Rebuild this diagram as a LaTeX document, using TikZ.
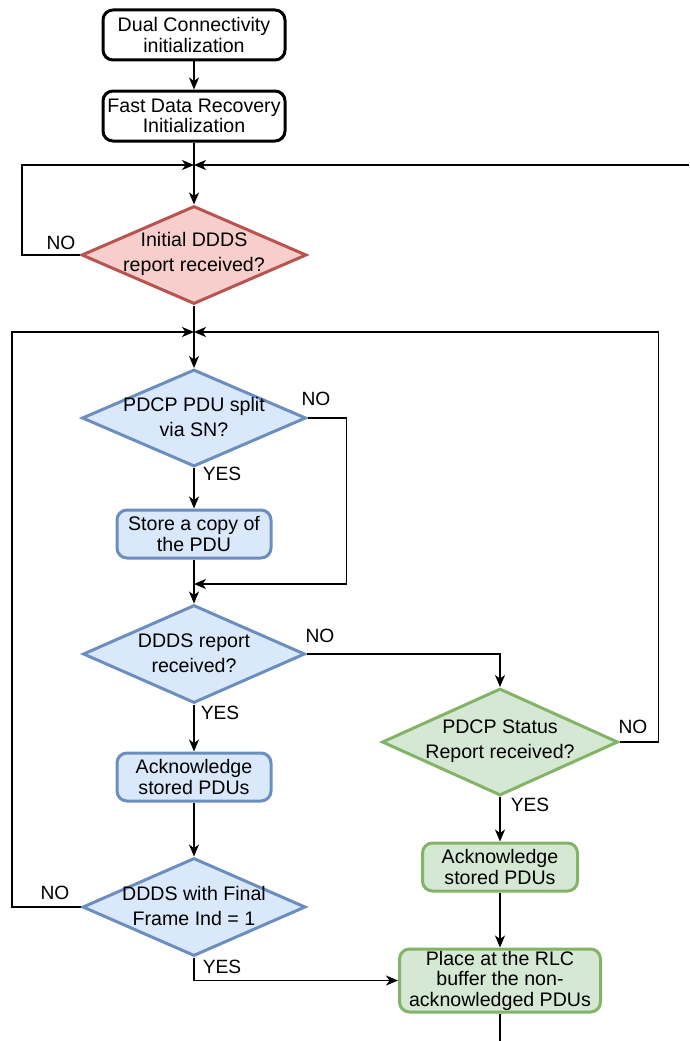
\documentclass[tikz,border=0pt]{standalone}
\usepackage{fontspec}
\setmainfont{Liberation Sans}
\usetikzlibrary{arrows.meta,shapes.geometric}
\definecolor{blueF}{HTML}{DAE8FC}
\definecolor{blueD}{HTML}{6C8EBF}
\definecolor{redF}{HTML}{F8CECC}
\definecolor{redD}{HTML}{B85450}
\definecolor{greenF}{HTML}{D5E8D4}
\definecolor{greenD}{HTML}{82B366}
\begin{document}
\begin{tikzpicture}[x=1pt,y=-1pt,
  txt/.style={font=\fontsize{19.6}{20.5}\selectfont, align=center},
  proc/.style 2 args={draw, rounded corners=10pt, line width=3pt, fill=white,
    minimum width=#1pt, minimum height=#2pt, inner sep=0pt, txt},
  dia/.style 2 args={diamond, draw, line width=3pt, inner sep=0pt,
    minimum width=#1pt, minimum height=#2pt},
  diatext/.style={font=\fontsize{19.6}{25}\selectfont, align=center},
  lbl/.style={font=\fontsize{19.2}{20}\selectfont, inner sep=0pt},
  conn/.style={line width=1.6pt, -{Stealth[length=12pt,width=10pt,inset=3.5pt]}},
  wire/.style={line width=1.6pt},
  blue/.style={draw=blueD, fill=blueF},
  red/.style={draw=redD, fill=redF},
  green/.style={draw=greenD, fill=greenF}]
\useasboundingbox (0,0) rectangle (689,1041);

% process boxes
\node[proc={182}{50}] (b1) at (194,35) {Dual Connectivity\\initialization};
\node[proc={182}{50}] (b2) at (194,116) {Fast Data Recovery\\Initialization};
\node[proc={154}{48}, blue] (b3) at (194,534) {Store a copy of\\the PDU};
\node[proc={154}{48}, blue] (b4) at (194,777) {Acknowledge\\stored PDUs};
\node[proc={155}{48}, green] (b5) at (500,867) {Acknowledge\\stored PDUs};
\node[proc={201}{63}, green] (b6) at (500,980.5) {Place at the RLC\\buffer the non-\\acknowledged PDUs};

% decisions
\node[dia={225}{98}, red] (d1) at (194,255) {};
\node[diatext] (t1) at ([yshift=1pt]d1.center) {Initial DDDS\\report received?};
\node[dia={224}{97}, blue] (d2) at (194,418) {};
\node[diatext] (t2) at ([yshift=1pt]d2.center) {PDCP PDU split\\via SN?};
\node[dia={222}{98}, blue] (d3) at (194,654) {};
\node[diatext] (t3) at ([yshift=1pt]d3.center) {DDDS report\\received?};
\node[dia={236}{107}, green] (d4) at (500,742) {};
\node[diatext] (t4) at ([yshift=1pt]d4.center) {PDCP Status\\Report received?};
\node[dia={223}{98}, blue] (d5) at (194,907) {};
\node[diatext] (t5) at ([yshift=1pt]d5.center) {DDDS with Final\\Frame Ind = 1};

% merge points and free ends
\coordinate (j1) at (194,165);
\coordinate (j2) at (194,332);
\coordinate (j3) at (194,584);
\coordinate (eR) at (689,165);
\coordinate (eB) at (500,1041);

% connectors
\draw[conn] (b1) -- (b2);
\draw[conn] (b2) -- (d1);
\draw[conn] (d1.west) -- ++(-58,0) |- (j1);
\draw[conn] (eR) -- (j1);
\draw[conn] (d1) -- (d2);
\draw[conn] (d5.west) -- ++(-69,0) |- (j2);
\draw[conn] (d4.east) -- ++(39,0) |- (j2);
\draw[conn] (d2) -- (b3);
\draw[conn] (d2.east) -- ++(39,0) |- (j3);
\draw[conn] (b3) -- (d3);
\draw[conn] (d3.east) -| (d4.north);
\draw[conn] (d3) -- (b4);
\draw[conn] (b4) -- (d5);
\draw[conn] (d5.south) |- (b6.west);
\draw[conn] (d4) -- (b5);
\draw[conn] (b5) -- (b6);
\draw[wire] (b6) -- (eB);

% branch labels
\node[lbl] (n1) at (61,243) {NO};
\node[lbl] (n2) at (316,399) {NO};
\node[lbl] (y2) at (222,474) {YES};
\node[lbl] (n3) at (320,636) {NO};
\node[lbl] (y3) at (220,713) {YES};
\node[lbl] (n4) at (633,727) {NO};
\node[lbl] (y4) at (530,805) {YES};
\node[lbl] (n5) at (55,893) {NO};
\node[lbl] (y5) at (222,967) {YES};
\end{tikzpicture}
\end{document}
